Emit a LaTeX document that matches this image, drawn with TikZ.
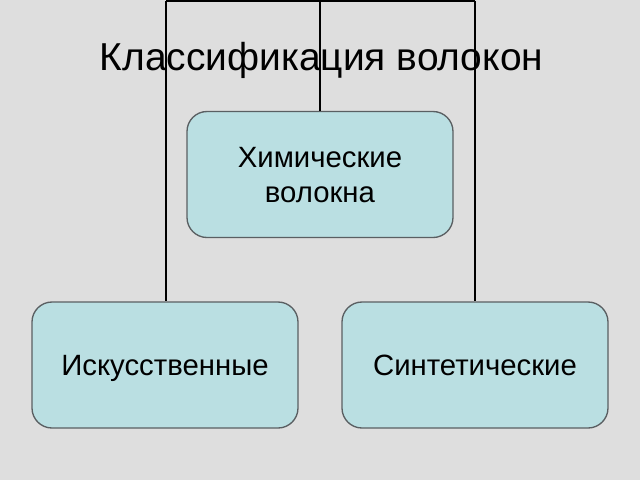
\documentclass[tikz,border=0pt]{standalone}
\usepackage{fontspec}
\setmainfont{Liberation Sans}
\definecolor{bg}{HTML}{DEDEDE}
\definecolor{boxfill}{HTML}{BADFE2}
\definecolor{boxline}{HTML}{5A5F62}
\begin{document}
\begin{tikzpicture}[x=0.75pt,y=-0.75pt,
  box/.style={draw=boxline,line width=1pt,fill=boxfill,rounded corners=15pt,
    minimum width=199.5pt,minimum height=94.5pt,align=center,inner sep=0pt,
    font=\fontsize{22}{26.5}\selectfont,text depth=0pt,text height=15.8pt},
  conn/.style={draw=black,line width=1.3pt}]
\fill[bg] (0,0) rectangle (640,480);
\useasboundingbox (0,0) rectangle (640,480);
\node[box,text height=42.3pt] (chem) at (320,174.5) {Химические\\волокна};
\node[box] (art) at (165,365) {Искусственные};
\node[box] (syn) at (475,365) {Синтетические};
\coordinate (tl) at (166,0.7);
\coordinate (tm) at (320,0.7);
\coordinate (tr) at (475,0.7);
\draw[conn] (tl) -- (tr);
\draw[conn] (tm) -- (chem.north);
\draw[conn] (tl) -- (tl |- art.north);
\draw[conn] (tr) -- (tr |- syn.north);
\node[font=\fontsize{29.2}{34}\selectfont,inner sep=0pt] (title) at (321.5,60) {Классификация волокон};
\end{tikzpicture}
\end{document}
